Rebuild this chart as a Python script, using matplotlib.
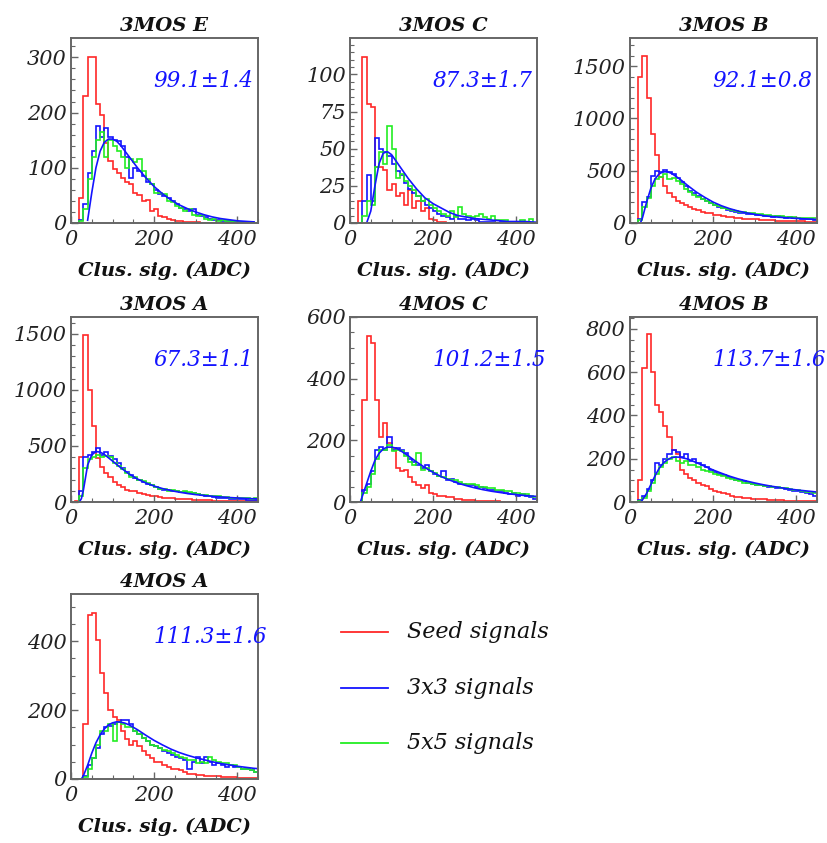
import numpy as np
import matplotlib
matplotlib.use("Agg")
import matplotlib.pyplot as plt
from matplotlib.ticker import MultipleLocator
from matplotlib.lines import Line2D

# ---------------- data ----------------
bin_edges = list(range(0, 460, 10))  # 45 bins of 10 ADC, 0..450

titles = ["3MOS E", "3MOS C", "3MOS B", "3MOS A", "4MOS C", "4MOS B", "4MOS A"]
mpv_labels = ["99.1\u00b11.4", "87.3\u00b11.7", "92.1\u00b10.8", "67.3\u00b11.1",
              "101.2\u00b11.5", "113.7\u00b11.6", "111.3\u00b11.6"]
y_max = [335, 124.5, 1770, 1650, 600, 855, 537]
y_major = [100, 25, 500, 500, 200, 200, 200]
y_minor = [20, 5, 100, 100, 50, 50, 50]

seed_3MOS_E = [0,0,45,230,300,300,215,195,145,112,98,90,82,75,70,55,50,40,42,22,25,12,10,8,6,4,3,2,2,1,1,0,0,0,0,0,0,0,0,0,0,0,0,0,0]
c3x3_3MOS_E = [0,0,5,35,90,130,175,155,172,155,150,148,140,120,82,100,95,85,75,70,60,52,48,45,40,35,28,25,22,25,15,12,10,8,6,5,4,3,3,2,2,1,1,1,0]
c5x5_3MOS_E = [0,0,3,25,80,120,150,165,120,150,140,130,120,100,115,110,115,95,80,70,55,55,52,40,38,30,28,22,25,15,12,14,8,6,7,4,5,3,3,2,2,1,1,0,0]
fit_x_3MOS_E = [40,50,60,70,80,90,100,110,120,140,160,180,200,220,240,260,280,300,320,340,360,380,400,420,440]
fit_y_3MOS_E = [5,55,100,130,146,152,152,148,140,120,100,82,66,53,42,33,26,20,15,11,8,6,4,3,2]

seed_3MOS_C = [0,0,15,112,80,78,38,38,36,22,26,18,20,12,22,10,15,8,10,3,2,1,1,0,0,0,0,0,0,0,0,0,0,0,0,0,0,0,0,0,0,0,0,0,0]
c3x3_3MOS_C = [0,0,0,15,32,15,57,50,48,45,40,35,32,27,23,20,18,15,12,10,8,6,5,4,3,5,3,3,2,3,2,1,1,1,1,0,1,0,0,0,0,0,0,0,0]
c5x5_3MOS_C = [0,0,0,5,15,12,38,48,40,65,50,30,33,28,25,22,18,15,16,12,10,8,6,5,8,4,11,6,5,4,5,6,4,3,5,2,2,2,1,1,1,2,1,3,0]
fit_x_3MOS_C = [40,50,60,70,80,90,100,110,120,140,160,180,200,220,240,260,280,300,340,380,420,450]
fit_y_3MOS_C = [0,8,25,40,47,48,46,42,38,30,23,17,13,10,7,5,4,3,2,1,1,0.5]

seed_3MOS_B = [0,0,1400,1600,1200,850,650,440,350,290,250,210,190,170,150,130,120,110,100,95,80,75,70,60,55,50,45,40,40,35,35,30,30,25,25,20,20,20,18,15,15,15,12,12,10]
c3x3_3MOS_B = [0,0,40,200,250,450,500,490,510,490,470,430,390,350,310,290,260,230,210,190,170,150,140,125,115,110,100,95,90,85,80,75,70,65,60,65,55,50,60,45,45,40,35,35,30]
c5x5_3MOS_B = [0,0,30,150,240,350,420,440,470,420,430,400,370,330,300,270,250,230,210,195,175,160,145,130,125,115,110,105,95,95,85,90,80,75,70,70,65,60,55,60,50,50,45,45,50]
fit_x_3MOS_B = [25,30,40,50,60,70,80,90,100,120,140,160,180,200,220,240,260,280,300,320,340,360,380,400,420,440,450]
fit_y_3MOS_B = [0,50,200,330,420,470,490,490,475,420,355,295,245,200,165,137,115,97,83,71,62,55,49,44,40,36,34]

seed_3MOS_A = [0,10,400,1490,1000,680,390,310,260,220,180,150,130,110,95,100,80,70,65,55,50,45,40,40,35,30,30,25,25,20,20,18,15,15,12,12,10,10,10,8,8,8,6,6,5]
c3x3_3MOS_A = [0,0,100,400,420,450,480,420,450,410,380,350,300,270,240,210,200,180,160,150,130,120,110,105,100,100,90,90,80,80,70,60,55,50,45,40,40,35,30,30,25,25,20,20,15]
c5x5_3MOS_A = [0,0,50,300,380,400,420,400,410,400,350,320,290,260,225,220,200,190,170,150,130,120,120,100,110,100,90,100,90,80,75,65,60,55,50,50,45,45,40,40,35,40,35,30,35]
fit_x_3MOS_A = [20,25,30,40,50,60,70,80,100,120,140,160,180,200,220,240,260,280,300,320,340,360,380,400,420,440,450]
fit_y_3MOS_A = [0,30,110,330,420,450,445,425,365,305,250,205,170,142,120,102,88,76,66,58,51,45,40,36,32,29,28]

seed_4MOS_C = [0,0,0,330,540,515,330,210,255,190,175,110,100,105,80,65,55,45,55,30,25,20,18,15,15,10,10,8,5,5,4,3,3,2,2,2,1,1,1,0,0,0,0,0,0]
c3x3_4MOS_C = [0,0,0,40,60,100,170,180,170,210,170,175,170,160,140,130,120,110,120,100,90,85,100,70,75,65,60,60,55,55,50,50,45,40,40,35,35,30,25,30,20,25,20,15,10]
c5x5_4MOS_C = [0,0,0,30,50,90,140,170,170,185,165,170,165,150,130,120,160,105,110,100,95,85,80,75,70,70,65,60,60,60,55,50,50,45,45,40,40,35,35,30,30,25,25,20,15]
fit_x_4MOS_C = [25,30,40,50,60,70,80,90,100,110,120,140,160,180,200,220,240,260,280,300,320,340,360,380,400,420,440,450]
fit_y_4MOS_C = [0,20,60,100,135,158,172,178,178,175,168,150,130,112,96,82,71,61,53,46,40,35,31,27,24,21,19,18]

seed_4MOS_B = [0,0,100,620,777,600,450,415,350,300,240,220,150,130,110,100,90,80,75,60,50,45,40,35,30,25,25,20,18,15,15,12,12,10,10,8,8,6,6,5,5,4,4,3,3]
c3x3_4MOS_B = [0,0,10,30,60,100,180,170,200,220,240,230,210,220,190,200,180,170,160,150,140,130,125,115,110,100,100,95,90,85,80,80,75,70,70,65,65,60,55,50,50,45,40,35,30]
c5x5_4MOS_B = [0,0,5,20,50,90,130,160,180,200,210,190,180,190,170,170,160,150,145,140,130,125,120,110,105,100,95,90,90,85,80,80,75,75,70,70,65,65,60,55,55,50,45,45,40]
fit_x_4MOS_B = [25,30,40,50,60,70,80,90,100,110,120,140,160,180,200,220,240,260,280,300,320,340,360,380,400,420,440,450]
fit_y_4MOS_B = [0,10,40,80,120,155,180,195,205,208,207,198,182,165,148,133,119,107,97,88,80,73,67,61,56,52,48,46]

seed_4MOS_A = [0,0,0,160,476,483,404,308,250,200,180,170,140,115,100,110,95,80,70,60,50,50,40,35,30,28,25,20,15,15,12,12,10,10,8,8,6,6,5,5,4,4,3,3,2]
c3x3_4MOS_A = [0,0,0,10,40,60,90,130,150,155,160,165,170,170,160,140,130,120,110,100,95,90,80,75,70,65,60,55,30,50,65,45,65,50,40,45,40,35,40,35,35,30,30,25,20]
c5x5_4MOS_A = [0,0,0,5,30,60,100,140,140,160,110,165,160,150,150,140,130,120,110,100,95,90,85,80,75,70,65,60,55,55,45,50,45,65,55,50,45,45,40,40,35,30,30,25,20]
fit_x_4MOS_A = [25,30,40,50,60,70,80,90,100,110,120,130,140,160,180,200,220,240,260,280,300,320,340,360,380,400,420,440,450]
fit_y_4MOS_A = [0,10,40,75,105,128,145,157,163,166,165,162,157,143,127,112,99,87,77,69,62,56,50,45,41,37,34,31,30]

seed_all = [seed_3MOS_E, seed_3MOS_C, seed_3MOS_B, seed_3MOS_A, seed_4MOS_C, seed_4MOS_B, seed_4MOS_A]
c3x3_all = [c3x3_3MOS_E, c3x3_3MOS_C, c3x3_3MOS_B, c3x3_3MOS_A, c3x3_4MOS_C, c3x3_4MOS_B, c3x3_4MOS_A]
c5x5_all = [c5x5_3MOS_E, c5x5_3MOS_C, c5x5_3MOS_B, c5x5_3MOS_A, c5x5_4MOS_C, c5x5_4MOS_B, c5x5_4MOS_A]
fitx_all = [fit_x_3MOS_E, fit_x_3MOS_C, fit_x_3MOS_B, fit_x_3MOS_A, fit_x_4MOS_C, fit_x_4MOS_B, fit_x_4MOS_A]
fity_all = [fit_y_3MOS_E, fit_y_3MOS_C, fit_y_3MOS_B, fit_y_3MOS_A, fit_y_4MOS_C, fit_y_4MOS_B, fit_y_4MOS_A]

legend_labels = ["Seed signals", "3x3 signals", "5x5 signals"]

# ---------------- style ----------------
RED = "#ff2828"
BLUE = "#1414ff"
GREEN = "#22ee22"
FRAME = "#666666"
SERIF = ["DejaVu Serif"]

W, H = 827, 843
fig = plt.figure(figsize=(W / 100, H / 100), dpi=100)

col_left = [71, 350, 630]
row_top = [38, 317, 594]
ax_w, ax_h = 187, 185

for i in range(7):
    r, c = divmod(i, 3)
    left = col_left[c] / W
    bottom = 1 - (row_top[r] + ax_h) / H
    ax = fig.add_axes([left, bottom, ax_w / W, ax_h / H])
    edges = np.array(bin_edges, dtype=float)
    ax.stairs(seed_all[i], edges, color=RED, lw=1.2, baseline=0)
    ax.stairs(c3x3_all[i], edges, color=BLUE, lw=1.2, baseline=0)
    ax.stairs(c5x5_all[i], edges, color=GREEN, lw=1.2, baseline=0)
    ax.plot(fitx_all[i], fity_all[i], color=BLUE, lw=1.2)
    ax.set_xlim(0, 450)
    ax.set_ylim(0, y_max[i])
    ax.xaxis.set_major_locator(MultipleLocator(200))
    ax.xaxis.set_minor_locator(MultipleLocator(50))
    ax.yaxis.set_major_locator(MultipleLocator(y_major[i]))
    ax.yaxis.set_minor_locator(MultipleLocator(y_minor[i]))
    ax.tick_params(axis="both", which="both", direction="in", colors=FRAME,
                   labelcolor="#222222", top=False, right=False)
    ax.tick_params(axis="both", which="major", length=5, width=1.0)
    ax.tick_params(axis="both", which="minor", length=3, width=0.8)
    ax.tick_params(axis="y", pad=3)
    ax.tick_params(axis="x", pad=5)
    for lab in ax.get_xticklabels() + ax.get_yticklabels():
        lab.set_fontfamily(SERIF)
        lab.set_fontstyle("italic")
        lab.set_fontsize(15)
    for sp in ax.spines.values():
        sp.set_color(FRAME)
        sp.set_linewidth(1.4)
    ax.set_title(titles[i], fontsize=14, fontstyle="italic", fontweight="bold",
                 family=SERIF, color="#111111", pad=5)
    ax.set_xlabel("Clus. sig. (ADC)", fontsize=14, fontstyle="italic",
                  fontweight="bold", family=SERIF, color="#111111", labelpad=9)
    ax.text(0.44, 0.765, mpv_labels[i], transform=ax.transAxes, ha="left",
            va="center", fontsize=15.5, fontstyle="italic", family=SERIF,
            color=BLUE, clip_on=False)

# legend
leg_colors = [RED, BLUE, GREEN]
leg_y = [632, 688, 743]
for lab, col, yy in zip(legend_labels, leg_colors, leg_y):
    yf = 1 - yy / H
    fig.add_artist(Line2D([341 / W, 388 / W], [yf, yf], color=col, lw=1.3))
    fig.text(407 / W, yf, lab, fontsize=16, fontstyle="italic", family=SERIF,
             color="#111111", va="center", ha="left")

fig.savefig("out.png", dpi=100)
